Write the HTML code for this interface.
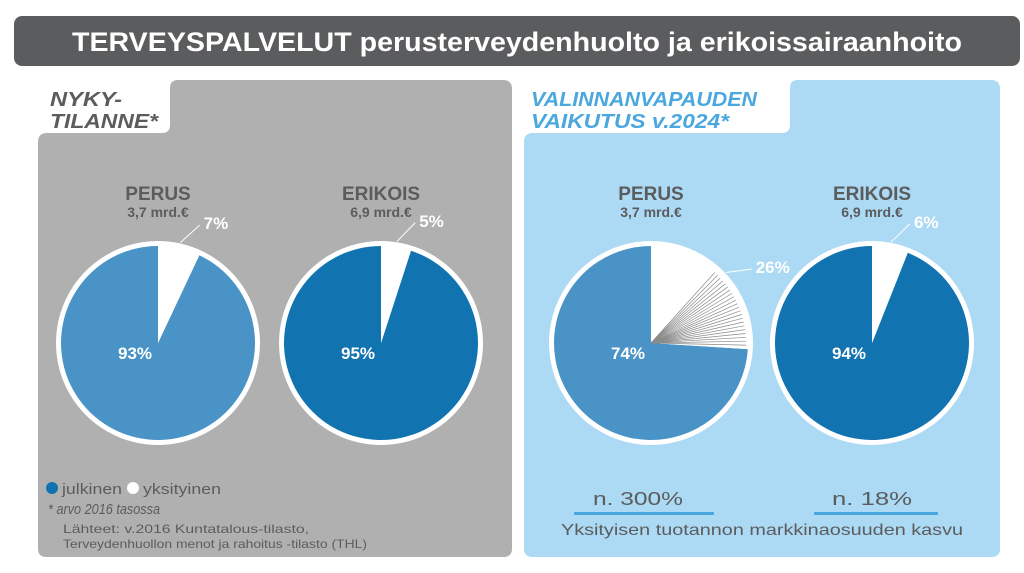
<!DOCTYPE html>
<html><head><meta charset="utf-8"><style>
html,body{margin:0;padding:0;background:#fff;width:1024px;height:573px;overflow:hidden}
svg{display:block;font-family:"Liberation Sans",sans-serif}
</style></head><body>
<svg id="chart" width="1024" height="573" viewBox="0 0 1024 573">
<rect x="14" y="16" width="1006" height="50" rx="8" fill="#5b5c5e"/>
<text x="517" y="51" text-anchor="middle" font-size="27" font-weight="bold" fill="#fff" textLength="890" lengthAdjust="spacingAndGlyphs">TERVEYSPALVELUT perusterveydenhuolto ja erikoissairaanhoito</text>
<path d="M38 142 Q38 133 47 133 H162 Q170 133 170 125 V88 Q170 80 178 80 H503 Q512 80 512 89 V549 Q512 557 503 557 H47 Q38 557 38 549 Z" fill="#b0b0b1"/>
<path d="M524 142 Q524 133 533 133 H782 Q790 133 790 125 V88 Q790 80 798 80 H991 Q1000 80 1000 89 V549 Q1000 557 991 557 H533 Q524 557 524 549 Z" fill="#acd9f3"/>
<g font-style="italic" font-weight="bold" font-size="20">
<text x="50" y="106" fill="#5b5c5e" textLength="72" lengthAdjust="spacingAndGlyphs">NYKY-</text>
<text x="50" y="128" fill="#5b5c5e" textLength="108" lengthAdjust="spacingAndGlyphs">TILANNE*</text>
<text x="531" y="106" fill="#4ba8df" textLength="226" lengthAdjust="spacingAndGlyphs">VALINNANVAPAUDEN</text>
<text x="531" y="128" fill="#4ba8df" textLength="198" lengthAdjust="spacingAndGlyphs">VAIKUTUS v.2024*</text>
</g>
<g id="pies"></g>
<g font-size="15" fill="#5b5c5e">
<circle cx="52" cy="488" r="6" fill="#1272b0"/>
<text x="62" y="494" textLength="60" lengthAdjust="spacingAndGlyphs">julkinen</text>
<circle cx="133" cy="488" r="6" fill="#fff"/>
<text x="143" y="494" textLength="78" lengthAdjust="spacingAndGlyphs">yksityinen</text>
<text x="48" y="514" font-style="italic" textLength="112" lengthAdjust="spacingAndGlyphs">* arvo 2016 tasossa</text>
<text x="63" y="533" font-size="12" textLength="246" lengthAdjust="spacingAndGlyphs">Lähteet: v.2016 Kuntatalous-tilasto,</text>
<text x="63" y="548" font-size="12" textLength="304" lengthAdjust="spacingAndGlyphs">Terveydenhuollon menot ja rahoitus -tilasto (THL)</text>
<text x="638" y="505" font-size="18" text-anchor="middle" textLength="90" lengthAdjust="spacingAndGlyphs">n. 300%</text>
<rect x="574" y="512" width="140" height="3" fill="#4ba8df"/>
<text x="872" y="505" font-size="18" text-anchor="middle" textLength="80" lengthAdjust="spacingAndGlyphs">n. 18%</text>
<rect x="814" y="512" width="124" height="3" fill="#4ba8df"/>
<text x="762" y="535" font-size="16" text-anchor="middle" textLength="402" lengthAdjust="spacingAndGlyphs">Yksityisen tuotannon markkinaosuuden kasvu</text>
</g>
</svg>
<script>
const pieTitles=["PERUS","ERIKOIS","PERUS","ERIKOIS"];
const pieSubtitles=["3,7 mrd.€","6,9 mrd.€","3,7 mrd.€","6,9 mrd.€"];
const privateShare=[7,5,26,6];
const publicShare=[93,95,74,94];
const pieNames=["current-perus","current-erikois","reform-perus","reform-erikois"];
const cxs=[158,381,651,872],cy=343,R=97;
const colors=["#4a93c6","#1273b1","#4a93c6","#1273b1"];
const NS="http://www.w3.org/2000/svg";
const g=document.getElementById('pies');
function mk(tag,attrs){const e=document.createElementNS(NS,tag);for(const k in attrs)e.setAttribute(k,attrs[k]);g.appendChild(e);return e;}
function pt(cx,r,a){return [cx+r*Math.sin(a),cy-r*Math.cos(a)];}
function arc(cx,r,a0,a1){const p0=pt(cx,r,a0),p1=pt(cx,r,a1);const large=(a1-a0)>Math.PI?1:0;return `M${cx} ${cy} L${p0[0]} ${p0[1]} A${r} ${r} 0 ${large} 1 ${p1[0]} ${p1[1]} Z`;}
pieTitles.forEach((t,i)=>{
  const cx=cxs[i];const tot=privateShare[i]+publicShare[i];
  const a=privateShare[i]/tot*2*Math.PI;
  let e=mk('circle',{cx:cx,cy:cy,r:R+5,fill:'#fff'});
  
  
  e=mk('path',{d:arc(cx,R,a,2*Math.PI-0.0001),fill:colors[i]});
  
  
  e=mk('path',{d:arc(cx,R,0,a),fill:'#fff'});
  
  
  if(privateShare[i]>20){
    for(let k=0;k<22;k++){const aa=a*0.45+k*(a*0.55)/22;const p=pt(cx,R-2,aa);
      const l=mk('line',{x1:cx,y1:cy,x2:p[0],y2:p[1],stroke:'#8a8a8a','stroke-width':0.7});
      
      }
  }
  const lp0=pt(cx,R+6,a*0.5),lp1=pt(cx,R+28,a*0.5+0.12);
  e=mk('line',{x1:lp0[0],y1:lp0[1],x2:lp1[0],y2:lp1[1],stroke:'#fff','stroke-width':1});
  
  
  e=mk('text',{x:lp1[0]+4,y:lp1[1]+4,fill:'#fff','font-size':17,'font-weight':'bold'});e.textContent=privateShare[i]+'%';
  
  
  e=mk('text',{x:cx-40,y:cy+16,fill:'#fff','font-size':17,'font-weight':'bold'});e.textContent=publicShare[i]+'%';
  
  
  e=mk('text',{x:cx,y:200,'text-anchor':'middle',fill:'#5b5c5e','font-size':19,'font-weight':'bold'});e.textContent=t;
  
  
  e=mk('text',{x:cx,y:217,'text-anchor':'middle',fill:'#5b5c5e','font-size':14,'font-weight':'bold'});e.textContent=pieSubtitles[i];
  
  
});
</script>
</body></html>
